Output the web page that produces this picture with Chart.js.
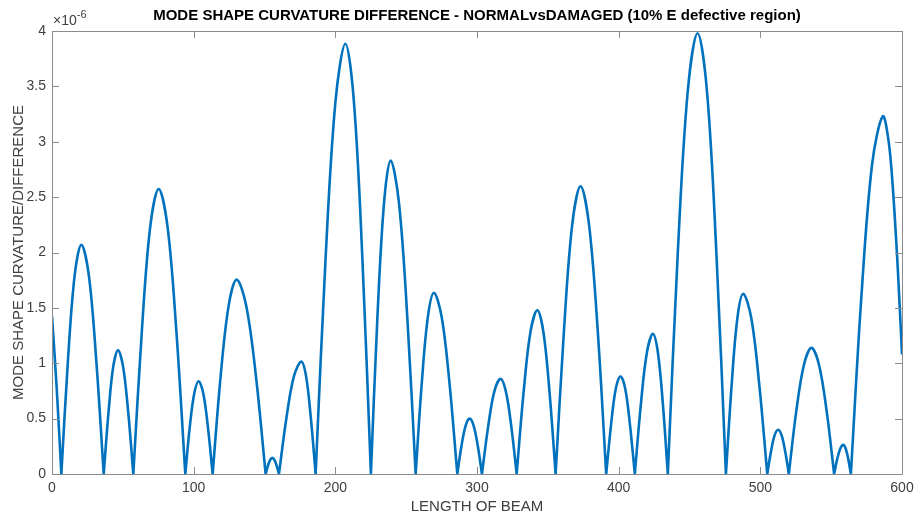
<!DOCTYPE html>
<html>
<head>
<meta charset="utf-8">
<script src="https://cdn.jsdelivr.net/npm/chart.js@4.4.3/dist/chart.umd.min.js"></script>
<style>
  html, body { margin: 0; padding: 0; background: #fff; }
  canvas { display: block; }
</style>
</head>
<body>
<canvas id="chart" width="917" height="517"></canvas>
<script>
// Length along the beam and |curvature difference| (in units of 1e-6),
// read off the plot one arch per line. Every zero is listed twice so the
// spline keeps the sharp cusp where the curve touches the axis.
const beamX = [
  0, 3.3, 6.6,
  6.6, 11.3, 16.0, 20.7, 26.0, 31.2, 36.5,
  36.5, 39.9, 43.2, 46.6, 50.2, 53.8, 57.4,
  57.4, 63.4, 69.3, 75.3, 81.6, 87.8, 94.1,
  94.1, 97.2, 100.4, 103.5, 106.8, 110.1, 113.4,
  113.4, 119.0, 124.7, 130.3, 137.1, 144.0, 150.8,
  150.8, 152.4, 153.9, 155.5, 157.1, 158.6, 160.2,
  160.2, 165.5, 170.7, 176.0, 179.4, 182.7, 186.1,
  186.1, 193.1, 200.1, 207.1, 213.1, 219.1, 225.1,
  225.1, 229.7, 234.4, 239.0, 244.9, 250.8, 256.7,
  256.7, 261.0, 265.3, 269.6, 275.1, 280.6, 286.1,
  286.1, 289.0, 291.9, 294.8, 297.7, 300.6, 303.5,
  303.5, 307.9, 312.2, 316.6, 320.4, 324.2, 328.0,
  328.0, 332.9, 337.7, 342.6, 346.9, 351.2, 355.5,
  355.5, 361.4, 367.2, 373.1, 379.1, 385.2, 391.2,
  391.2, 394.6, 397.9, 401.3, 404.7, 408.0, 411.4,
  411.4, 415.7, 419.9, 424.2, 427.7, 431.2, 434.7,
  434.7, 441.7, 448.7, 455.7, 462.4, 469.0, 475.7,
  475.7, 479.8, 483.8, 487.9, 493.6, 499.2, 504.9,
  504.9, 507.5, 510.0, 512.6, 515.1, 517.6, 520.1,
  520.1, 525.4, 530.8, 536.1, 541.4, 546.8, 552.1,
  552.1, 554.2, 556.4, 558.5, 560.3, 562.1, 563.9,
  563.9, 571.4, 578.9, 586.4, 590.5, 593.5, 597.0, 600
];

const curvDiff = [
  1.424, 0.78, 0,
  0, 1.035, 1.793, 2.07, 1.793, 1.035, 0,
  0, 0.559, 0.967, 1.117, 0.967, 0.559, 0,
  0, 1.287, 2.229, 2.574, 2.229, 1.287, 0,
  0, 0.419, 0.726, 0.838, 0.726, 0.419, 0,
  0, 0.878, 1.520, 1.755, 1.520, 0.878, 0,
  0, 0.073, 0.126, 0.146, 0.126, 0.073, 0,
  0, 0.508, 0.879, 1.015, 0.879, 0.508, 0,
  0, 1.943, 3.364, 3.885, 3.364, 1.943, 0,
  0, 1.415, 2.451, 2.83, 2.451, 1.415, 0,
  0, 0.818, 1.416, 1.635, 1.416, 0.818, 0,
  0, 0.25, 0.433, 0.50, 0.433, 0.25, 0,
  0, 0.430, 0.744, 0.859, 0.744, 0.430, 0,
  0, 0.739, 1.280, 1.478, 1.280, 0.739, 0,
  0, 1.299, 2.250, 2.598, 2.250, 1.299, 0,
  0, 0.442, 0.765, 0.883, 0.765, 0.442, 0,
  0, 0.633, 1.095, 1.265, 1.095, 0.633, 0,
  0, 1.99, 3.447, 3.98, 3.447, 1.99, 0,
  0, 0.813, 1.408, 1.626, 1.408, 0.813, 0,
  0, 0.20, 0.346, 0.40, 0.346, 0.20, 0,
  0, 0.570, 0.986, 1.139, 0.986, 0.570, 0,
  0, 0.132, 0.228, 0.263, 0.228, 0.132, 0,
  0, 1.615, 2.797, 3.23, 3.01, 2.59, 1.86, 1.08
];

const xTicks = [0, 100, 200, 300, 400, 500, 600];
const yTicks = [0, 0.5, 1, 1.5, 2, 2.5, 3, 3.5, 4];

const titleText = 'MODE SHAPE CURVATURE DIFFERENCE - NORMALvsDAMAGED (10% E defective region)';
const xTitle = 'LENGTH OF BEAM';
const yTitle = 'MODE SHAPE CURVATURE/DIFFERENCE';

const FONT = '"Liberation Sans", Arial, Helvetica, sans-serif';
const TICK = 7;

// Box round the axes with inward ticks, title, axis titles and the x10^-6 note.
const matlabAxes = {
  id: 'matlabAxes',
  afterDraw(chart) {
    const { ctx, chartArea: a, scales: { x, y } } = chart;
    ctx.save();

    ctx.strokeStyle = '#8c8c8c';
    ctx.lineWidth = 1;
    ctx.beginPath();
    ctx.rect(Math.round(a.left) + 0.5, Math.round(a.top) + 0.5,
      Math.round(a.right - a.left), Math.round(a.bottom - a.top));

    xTicks.forEach(v => {
      const px = Math.round(x.getPixelForValue(v)) + 0.5;
      ctx.moveTo(px, a.bottom);
      ctx.lineTo(px, a.bottom - TICK);
      ctx.moveTo(px, a.top);
      ctx.lineTo(px, a.top + TICK);
    });

    yTicks.forEach(v => {
      const py = Math.round(y.getPixelForValue(v)) + 0.5;
      ctx.moveTo(a.left, py);
      ctx.lineTo(a.left + TICK, py);
      ctx.moveTo(a.right, py);
      ctx.lineTo(a.right - TICK, py);
    });
    ctx.stroke();

    // Title
    ctx.fillStyle = '#000';
    ctx.font = 'bold 15px ' + FONT;
    ctx.textAlign = 'center';
    ctx.textBaseline = 'middle';
    ctx.fillText(titleText, (a.left + a.right) / 2, 16);

    // Axis titles
    ctx.fillStyle = '#404040';
    ctx.font = '15px ' + FONT;
    ctx.fillText(xTitle, (a.left + a.right) / 2, 507);

    ctx.save();
    ctx.translate(19, (a.top + a.bottom) / 2);
    ctx.rotate(-Math.PI / 2);
    ctx.fillText(yTitle, 0, 0);
    ctx.restore();

    // Exponent note above the y axis
    ctx.textAlign = 'left';
    ctx.font = '14px ' + FONT;
    ctx.fillText('\u00d710', a.left + 1, 21);
    const w = ctx.measureText('\u00d710').width;
    ctx.font = '11px ' + FONT;
    ctx.fillText('-6', a.left + 1 + w, 15);

    ctx.restore();
  }
};

const points = beamX.map((x, i) => ({ x, y: curvDiff[i] }));

new Chart(document.getElementById('chart'), {
  type: 'line',
  data: {
    datasets: [{
      data: points,
      borderColor: '#0072BD',
      borderWidth: 2.6,
      pointRadius: 0,
      tension: 0.35,
      fill: false
    }]
  },
  options: {
    responsive: false,
    animation: false,
    devicePixelRatio: 1,
    layout: { padding: { left: 0, right: 15, top: 31, bottom: 0 } },
    plugins: {
      legend: { display: false },
      tooltip: { enabled: false },
      title: { display: false }
    },
    scales: {
      x: {
        type: 'linear',
        min: 0,
        max: 600,
        // fixed height, and let the end labels hang over the padding
        afterFit: s => { s.height = 43; s.paddingLeft = 0; s.paddingRight = 0; },
        afterBuildTicks: s => { s.ticks = xTicks.map(value => ({ value })); },
        grid: { display: true, drawOnChartArea: false, drawTicks: false },
        border: { display: false },
        ticks: {
          padding: 6,
          color: '#404040',
          font: { family: FONT, size: 14 },
          maxRotation: 0,
          callback: v => String(v)
        }
      },
      y: {
        type: 'linear',
        min: 0,
        max: 4,
        afterFit: s => { s.width = 52; s.paddingTop = 0; s.paddingBottom = 0; },
        afterBuildTicks: s => { s.ticks = yTicks.map(value => ({ value })); },
        grid: { display: true, drawOnChartArea: false, drawTicks: false },
        border: { display: false },
        ticks: {
          padding: 6,
          color: '#404040',
          font: { family: FONT, size: 14 },
          callback: v => String(v)
        }
      }
    }
  },
  plugins: [matlabAxes]
});
</script>
</body>
</html>
